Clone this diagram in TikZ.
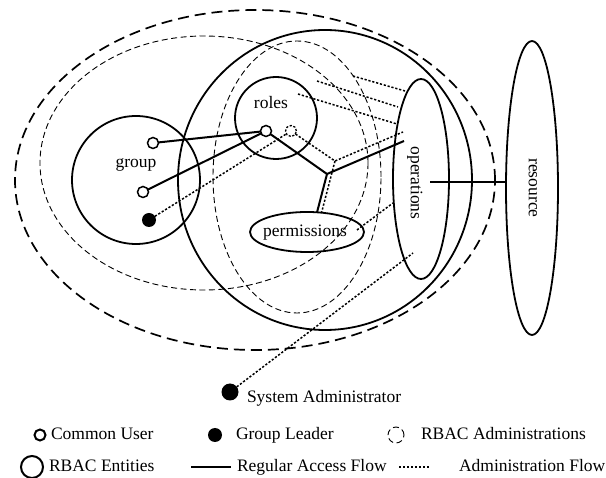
\documentclass[tikz,border=0pt]{standalone}
\usepackage{fontspec}
\setmainfont{Liberation Serif}
\usetikzlibrary{shapes.geometric}
\begin{document}
\begin{tikzpicture}[x=1pt,y=-1pt,
  every node/.style={inner sep=0pt, outer sep=0pt},
  lbl/.style={font=\fontsize{17.5}{20}\selectfont, text height=12.2pt, text depth=3.8pt},
  entity/.style={draw, line width=1.8pt},
  admthick/.style={draw, line width=1.7pt, dash pattern=on 11pt off 6pt},
  admthin/.style={draw, line width=0.9pt, dash pattern=on 6pt off 3.5pt},
  regular/.style={line width=2pt},
  adminflow/.style={line width=1.5pt, dash pattern=on 2.2pt off 1.8pt},
  user/.style={circle, draw, fill=white, line width=1.5pt, minimum size=11pt},
  leader/.style={circle, fill=black, minimum size=14pt},
]
\useasboundingbox (0,0) rectangle (606,478);

% administration domains
\node[ellipse, admthick, minimum width=480pt, minimum height=340pt] (admOuter) at (255,180) {};
\node[ellipse, admthin, minimum width=328pt, minimum height=254pt] (admGroup) at (204,163) {};
\node[ellipse, admthin, minimum width=168pt, minimum height=272pt] (admRoles) at (297,177) {};

% RBAC entities
\node[ellipse, entity, minimum width=294pt, minimum height=300pt] (rbac) at (325,180) {};
\node[circle, entity, minimum size=128pt] (group) at (136,180) {};
\node[lbl] (groupT) at (136,163) {group};
\node[circle, entity, minimum size=82pt] (roles) at (276,118) {};
\node[lbl] (rolesT) at (271,104) {roles};
\node[ellipse, entity, minimum width=114pt, minimum height=40pt] (perms) at (307,232) {};
\node[lbl] (permsT) at (305,232) {permissions};
\node[ellipse, entity, minimum width=56pt, minimum height=200pt] (ops) at (421,179) {};
\node[lbl, rotate=-90] (opsT) at (415,183) {operations};
\node[ellipse, entity, minimum width=52pt, minimum height=294pt] (res) at (532,188) {};
\node[lbl, rotate=-90] (resT) at (533,188) {resource};

% junctions and end points of the flows
\coordinate (J) at (327,174);
\coordinate (K) at (335,161);
\coordinate (opsJ) at (404,141);
\coordinate (opsK) at (403,132);
\coordinate (opsR) at (430,182);
\coordinate (t1) at (353,76);  \coordinate (t1e) at (405,91);
\coordinate (t2) at (317,81);  \coordinate (t2e) at (398,107);
\coordinate (t3) at (298,94);  \coordinate (t3e) at (397,124);
\coordinate (pe) at (357,230); \coordinate (pee) at (393,203);
\coordinate (sae) at (413,253);

% users
\node[user] (u1) at (153,143) {};
\node[user] (u2) at (143,192) {};
\node[leader] (gl) at (149,220) {};
\node[user] (u3) at (266,131) {};
\node[user, dash pattern=on 2.2pt off 1.6pt, line width=1.3pt] (u4) at (291,131) {};

% regular access flow
\draw[regular] (u1) -- (u3);
\draw[regular] (u2) -- (u3);
\draw[regular] (u3) -- (J) -- (opsJ);
\draw[regular] (J) -- (perms.63);
\draw[regular] (opsR) -- (opsR -| res.west);

% administration flow
\draw[adminflow] (gl) -- (u4);
\draw[adminflow] (u4) -- (K) -- (opsK);
\draw[adminflow] (K) -- (perms.53);
\draw[adminflow] (t1) -- (t1e);
\draw[adminflow] (t2) -- (t2e);
\draw[adminflow] (t3) -- (t3e);
\draw[adminflow] (pe) -- (pee);

% system administrator
\node[leader, minimum size=17pt] (sa) at (230,392) {};
\node[lbl, anchor=west] (saT) at (247,398) {System Administrator};
\draw[adminflow] (sa) -- (sae);

% legend
\node[user, minimum size=11pt, line width=2pt] (lgUser) at (40,435) {};
\node[lbl, anchor=west] (lgUserT) at (51,435) {Common User};
\node[leader] (lgLeader) at (215,435) {};
\node[lbl, anchor=west] (lgLeaderT) at (236,435) {Group Leader};
\node[circle, admthin, minimum size=16pt] (lgAdm) at (396,435) {};
\node[lbl, anchor=west] (lgAdmT) at (421,435) {RBAC Administrations};
\node[circle, entity, line width=2pt, minimum size=22pt] (lgEnt) at (32,467) {};
\node[lbl, anchor=west] (lgEntT) at (49,467) {RBAC Entities};
\coordinate (lgReg1) at (191,467);
\coordinate (lgReg2) at (231,467);
\draw[regular] (lgReg1) -- (lgReg2);
\node[lbl, anchor=west] (lgRegT) at (237,467) {Regular Access Flow};
\coordinate (lgFlow1) at (399,467);
\coordinate (lgFlow2) at (430,467);
\draw[adminflow] (lgFlow1) -- (lgFlow2);
\node[lbl, anchor=west] (lgFlowT) at (459,467) {Administration Flow};
\end{tikzpicture}
\end{document}
